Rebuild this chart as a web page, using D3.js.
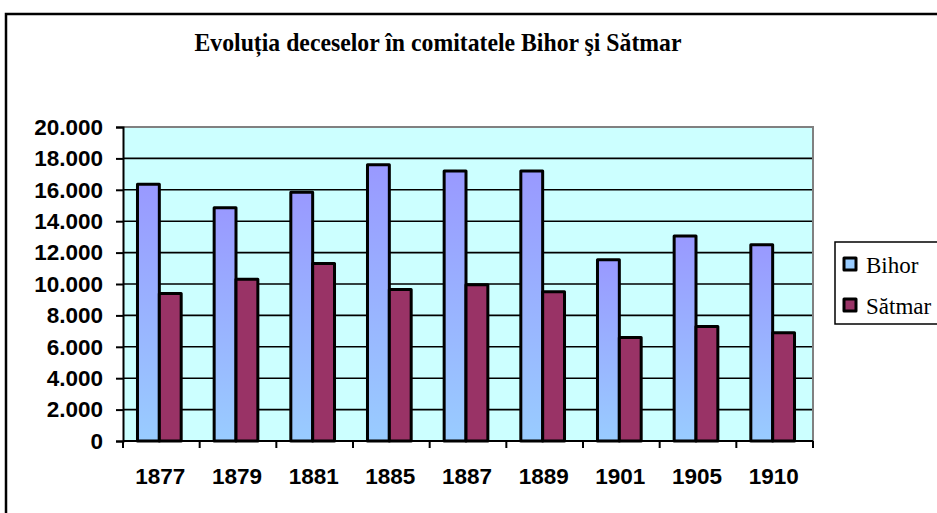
<!DOCTYPE html>
<html>
<head>
<meta charset="utf-8">
<script src="https://cdn.jsdelivr.net/npm/d3@7"></script>
<style>
  body { margin: 0; background: #fff; }
  svg { display: block; }
</style>
</head>
<body>
<svg id="chart" width="937" height="513"></svg>
<script>
// data
const years = ["1877", "1879", "1881", "1885", "1887", "1889", "1901", "1905", "1910"];
const bihor = [16350, 14850, 15850, 17600, 17200, 17200, 11550, 13050, 12500];
const satmar = [9400, 10300, 11300, 9650, 9950, 9500, 6600, 7300, 6900];
const seriesNames = ["Bihor", "Sătmar"];
const yTicks = [0, 2000, 4000, 6000, 8000, 10000, 12000, 14000, 16000, 18000, 20000];

const svg = d3.select("#chart");
const plot = { left: 123, right: 813, top: 127, bottom: 441 };

// gradient for Bihor bars
const defs = svg.append("defs");
const grad = defs.append("linearGradient")
    .attr("id", "bihorGrad")
    .attr("x1", 0).attr("y1", 0).attr("x2", 0).attr("y2", 1);
grad.append("stop").attr("offset", "0%").attr("stop-color", "#9999ff");
grad.append("stop").attr("offset", "100%").attr("stop-color", "#99ccff");

// outer frame (right and bottom fall outside the window)
svg.append("rect")
    .attr("x", 6).attr("y", 14)
    .attr("width", 960).attr("height", 520)
    .attr("fill", "none")
    .attr("stroke", "#000")
    .attr("stroke-width", 2.5);

// title
svg.append("text")
    .attr("x", 438)
    .attr("y", 51)
    .attr("text-anchor", "middle")
    .attr("textLength", 487)
    .attr("lengthAdjust", "spacingAndGlyphs")
    .style("font-family", "'Liberation Serif', 'Times New Roman', serif")
    .style("font-weight", "bold")
    .style("font-size", "25px")
    .text("Evoluția deceselor în comitatele Bihor şi Sătmar");

// scales
const x0 = d3.scaleBand()
    .domain(years)
    .range([plot.left, plot.right])
    .paddingInner(0.43)
    .paddingOuter(0.215);

const x1 = d3.scaleBand()
    .domain(seriesNames)
    .range([0, x0.bandwidth()]);

const y = d3.scaleLinear()
    .domain([0, 20000])
    .range([plot.bottom, plot.top]);

// plot background
svg.append("rect")
    .attr("x", plot.left).attr("y", plot.top)
    .attr("width", plot.right - plot.left)
    .attr("height", plot.bottom - plot.top)
    .attr("fill", "#ccffff");

// gridlines
svg.append("g")
    .selectAll("line")
    .data(yTicks.filter(d => d > 0 && d < 20000))
    .join("line")
    .attr("x1", plot.left).attr("x2", plot.right)
    .attr("y1", d => y(d)).attr("y2", d => y(d))
    .attr("stroke", "#000")
    .attr("stroke-width", 1.6);

// top and right border in grey
svg.append("path")
    .attr("d", `M${plot.left},${plot.top}H${plot.right}V${plot.bottom}`)
    .attr("fill", "none")
    .attr("stroke", "#808080")
    .attr("stroke-width", 2);

// bars
const rows = years.map((yr, i) => ({ year: yr, values: [bihor[i], satmar[i]] }));
const fills = ["url(#bihorGrad)", "#993366"];

svg.append("g")
    .selectAll("g")
    .data(rows)
    .join("g")
    .attr("transform", d => `translate(${x0(d.year) - 2},0)`)
    .selectAll("rect")
    .data(d => d.values.map((v, k) => ({ name: seriesNames[k], value: v, k: k })))
    .join("rect")
    .attr("x", d => x1(d.name))
    .attr("y", d => y(d.value))
    .attr("width", x1.bandwidth())
    .attr("height", d => y(0) - y(d.value))
    .attr("fill", d => fills[d.k])
    .attr("stroke", "#000")
    .attr("stroke-width", 3)
    .attr("stroke-linejoin", "round");

// y axis
const yAxis = svg.append("g")
    .attr("transform", `translate(${plot.left},0)`)
    .call(d3.axisLeft(y)
        .tickValues(yTicks)
        .tickSize(7)
        .tickPadding(13)
        .tickFormat(d => d3.format(",")(d).replace(/,/g, ".")));
yAxis.select(".domain").attr("stroke", "#000").attr("stroke-width", 2);
yAxis.selectAll(".tick line").attr("stroke", "#000").attr("stroke-width", 2);
yAxis.selectAll(".tick text")
    .attr("fill", "#000")
    .style("font-family", "'Liberation Sans', Arial, sans-serif")
    .style("font-weight", "bold")
    .style("font-size", "22.5px");

// x axis: ticks sit on category boundaries
const xAxis = svg.append("g")
    .attr("transform", `translate(0,${plot.bottom})`);
xAxis.append("line")
    .attr("x1", plot.left).attr("x2", plot.right)
    .attr("stroke", "#000").attr("stroke-width", 2);
const step = x0.step();
xAxis.selectAll("line.tick")
    .data(d3.range(years.length + 1))
    .join("line")
    .attr("class", "tick")
    .attr("x1", i => plot.left + i * step)
    .attr("x2", i => plot.left + i * step)
    .attr("y1", 0).attr("y2", 7)
    .attr("stroke", "#000").attr("stroke-width", 2);
xAxis.selectAll("text")
    .data(years)
    .join("text")
    .attr("x", d => x0(d) + x0.bandwidth() / 2 - 1)
    .attr("y", 43)
    .attr("text-anchor", "middle")
    .style("font-family", "'Liberation Sans', Arial, sans-serif")
    .style("font-weight", "bold")
    .style("font-size", "22.5px")
    .text(d => d);

// legend
const legend = svg.append("g").attr("transform", "translate(835,242)");
legend.append("rect")
    .attr("width", 110).attr("height", 82)
    .attr("fill", "#fff")
    .attr("stroke", "#000")
    .attr("stroke-width", 1.5);
const legendFill = ["#99ccff", "#993366"];
seriesNames.forEach((name, i) => {
    legend.append("rect")
        .attr("x", 9).attr("y", 16 + i * 41)
        .attr("width", 12).attr("height", 12)
        .attr("fill", legendFill[i])
        .attr("stroke", "#000")
        .attr("stroke-width", 3)
        .attr("stroke-linejoin", "round");
    legend.append("text")
        .attr("x", 31)
        .attr("y", 31 + i * 41)
        .style("font-family", "'Liberation Serif', 'Times New Roman', serif")
        .style("font-size", "23px")
        .text(name);
});
</script>
</body>
</html>
